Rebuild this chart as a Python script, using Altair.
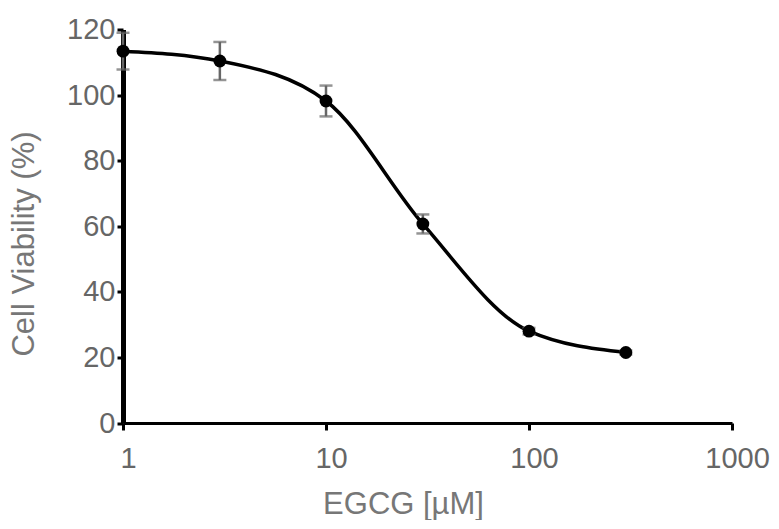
import altair as alt
import pandas as pd

# Data
conc = [1, 3, 10, 30, 100, 300]            # EGCG concentration [µM]
viability = [113.4, 110.4, 98.2, 60.7, 28.0, 21.5]  # cell viability (%)
err = [5.6, 5.8, 4.7, 2.9, 1.0, 0.6]       # error (±)

x_ticks = [1, 10, 100, 1000]
y_ticks = [0, 20, 40, 60, 80, 100, 120]

df = pd.DataFrame({"conc": conc, "viab": viability, "err": err})
df["lo"] = df["viab"] - df["err"]
df["hi"] = df["viab"] + df["err"]

FONT = "Liberation Sans"
LABEL_COL = "#666666"
TITLE_COL = "#777777"

xscale = alt.Scale(type="log", domain=[1, 1000], nice=False)
yscale = alt.Scale(domain=[0, 120], nice=False, zero=True)

xaxis = alt.Axis(
    values=x_ticks, format="d", grid=False,
    domainColor="black", domainWidth=3, tickColor="black", tickWidth=3, tickSize=7,
    labelFont=FONT, labelFontSize=29, labelColor=LABEL_COL, labelPadding=14, labelOffset=5,
    labelFlush=False, labelOverlap=False,
    title="EGCG [µM]", titleFont=FONT, titleFontSize=31, titleFontWeight="normal",
    titleColor=TITLE_COL, titleX=280, titleY=90, titleAlign="center",
    titleBaseline="alphabetic",
)
yaxis = alt.Axis(
    values=y_ticks, grid=False,
    domainColor="black", domainWidth=5, tickColor="black", tickWidth=3, tickSize=6,
    labelFont=FONT, labelFontSize=29, labelColor=LABEL_COL, labelPadding=2,
    labelFlush=False, labelOverlap=False,
    title="Cell Viability (%)", titleFont=FONT, titleFontSize=31, titleFontWeight="normal",
    titleColor=TITLE_COL, titleX=-90, titleY=214, titleAngle=-90, titleAlign="center",
    titleBaseline="alphabetic",
)

base = alt.Chart(df)

line = base.mark_line(color="black", strokeWidth=3.5, interpolate="monotone").encode(
    x=alt.X("conc:Q", scale=xscale, axis=xaxis),
    y=alt.Y("viab:Q", scale=yscale, axis=yaxis),
)

bars = base.mark_rule(color="#666666", strokeWidth=2.5).encode(
    x="conc:Q", y="lo:Q", y2="hi:Q"
)
cap_lo = base.mark_tick(color="#666666", orient="horizontal", size=13, thickness=2.5).encode(
    x="conc:Q", y="lo:Q"
)
cap_hi = base.mark_tick(color="#666666", orient="horizontal", size=13, thickness=2.5).encode(
    x="conc:Q", y="hi:Q"
)

points = base.mark_circle(color="black", opacity=1, size=165).encode(
    x="conc:Q", y="viab:Q"
)

chart = alt.layer(line, bars, cap_lo, cap_hi, points).properties(
    width=609,
    height=393.5,
    autosize="none",
    padding={"left": 115, "top": 21.5, "right": 39, "bottom": 97},
).configure(background="white").configure_view(stroke=None)

chart.save("out.html", embed_options={"renderer": "svg", "actions": False})
